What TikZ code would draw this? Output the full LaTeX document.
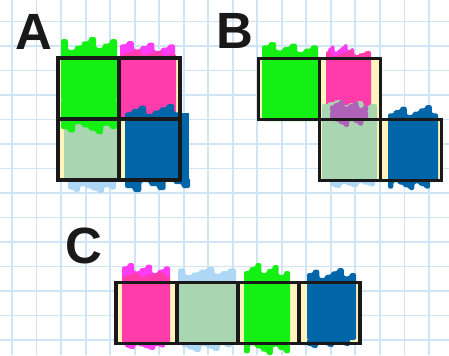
\documentclass[tikz,border=0pt]{standalone}
\usepackage{fontspec}
\newfontfamily\labelfont{Liberation Sans}
\usepackage{xcolor}
\usepackage{tikz}
\usetikzlibrary{positioning}

\definecolor{gridblue}{HTML}{CFE5F6}
\definecolor{cream}{HTML}{FFF4BC}
\definecolor{mkgreen}{HTML}{14F014}
\definecolor{mkpink}{HTML}{FF3CAA}
\definecolor{mkmagenta}{HTML}{FF3CF5}
\definecolor{mksage}{HTML}{A9D5B0}
\definecolor{mkblue}{HTML}{0066AA}
\definecolor{mklight}{HTML}{AED6F5}
\definecolor{mkmauve}{HTML}{B062B8}

\newcommand{\paint}[7]{%
  \fill[#1, rounded corners=1.2pt] (#2,#5) \foreach \k in {0,...,7}{
    |- ({#2+(#3-#2)*(\k+1)/8},{#4+(#6)*mod(\k*5+#7,7)/6}) } -- (#3,#5) -- cycle;}

\begin{document}
\begin{tikzpicture}[
  x=0.02cm, y=-0.02cm,
  gridline/.style={draw=gridblue, line width=1.1pt},
  cell/.style={fill=cream, minimum width=1.22cm, minimum height=1.22cm,
               inner sep=0pt, outer sep=0pt},
  frame/.style={draw=black!90, line width=1.8pt},
  lbl/.style={font=\labelfont\bfseries\fontsize{29}{30}\selectfont,
              inner sep=0pt, text=black!90},
]
  \fill[white] (0,0) rectangle (449,355);
  \useasboundingbox (0,0) rectangle (449,355);

  \foreach \i in {0,...,17}
    \draw[gridline] ({12+24.53*\i},0) -- ({12+24.53*\i},355);
  \foreach \j in {0,...,13}
    \draw[gridline] (0,{21.5+24.5*\j}) -- (449,{21.5+24.5*\j});

  \node[lbl] (labA) at (33.5,31.5) {A};
  \node[lbl] (labB) at (234.5,31) {B};
  \node[lbl] (labC) at (83.5,246) {C};

  \node[cell] (a1) at (88.5,88.5) {};
  \node[cell, right=0pt of a1] (a2) {};
  \node[cell, below=0pt of a1] (a3) {};
  \node[cell, right=0pt of a3] (a4) {};

  \node[cell] (b1) at (289,89) {};
  \node[cell, right=0pt of b1] (b2) {};
  \node[cell, below=0pt of b2] (b3) {};
  \node[cell, right=0pt of b3] (b4) {};

  \node[cell] (c1) at (146.5,313) {};
  \node[cell, right=0pt of c1] (c2) {};
  \node[cell, right=0pt of c2] (c3) {};
  \node[cell, right=0pt of c3] (c4) {};

  \paint{mksage}{64}{118}{119}{181}{0}{0}
  \paint{mklight}{68}{116}{193}{180}{-7}{3}
  \paint{mkgreen}{61}{117}{37}{100}{13}{1}
  \paint{mkgreen}{61}{117}{134}{99}{-10}{3}
  \paint{mkmagenta}{120}{175}{41}{62}{10}{2}
  \paint{mkpink}{120}{176}{50}{118}{6}{4}
  \paint{mkblue}{125}{181}{104}{181}{10}{5}
  \fill[mkblue] (178,113) rectangle (189,182);
  \paint{mkblue}{125}{190}{192}{178}{-12}{2}

  \paint{mkgreen}{262}{318}{42}{121}{10}{2}
  \paint{mkmagenta}{328}{354}{44}{60}{8}{3}
  \paint{mkpink}{326}{371}{50}{112}{6}{1}
  \paint{mksage}{322}{377}{100}{181}{6}{4}
  \paint{mkmauve}{330}{368}{100}{112}{8}{4}
  \paint{mkmauve}{330}{368}{127}{111}{-8}{6}
  \paint{mklight}{330}{375}{188}{180}{-5}{2}
  \paint{mkblue}{388}{438}{105}{181}{10}{5}
  \paint{mkblue}{388}{430}{190}{178}{-8}{1}

  \paint{mkmagenta}{122}{170}{263}{285}{10}{2}
  \paint{mkpink}{122}{170}{272}{343}{5}{5}
  \paint{mkmagenta}{125}{165}{350}{342}{-5}{3}
  \paint{mklight}{178}{236}{267}{285}{8}{1}
  \paint{mksage}{178}{236}{283}{343}{0}{0}
  \paint{mklight}{182}{232}{352}{342}{-7}{4}
  \paint{mkgreen}{244}{290}{263}{343}{12}{4}
  \paint{mkgreen}{244}{290}{355}{342}{-10}{1}
  \paint{mkblue}{307}{356}{268}{340}{10}{3}
  \paint{mkblue}{307}{350}{348}{339}{-6}{2}

  \foreach \c in {a1,a2,a3,a4,b1,b2,b3,b4,c1,c2,c3,c4}
    \draw[frame] (\c.north west) rectangle (\c.south east);
\end{tikzpicture}
\end{document}
